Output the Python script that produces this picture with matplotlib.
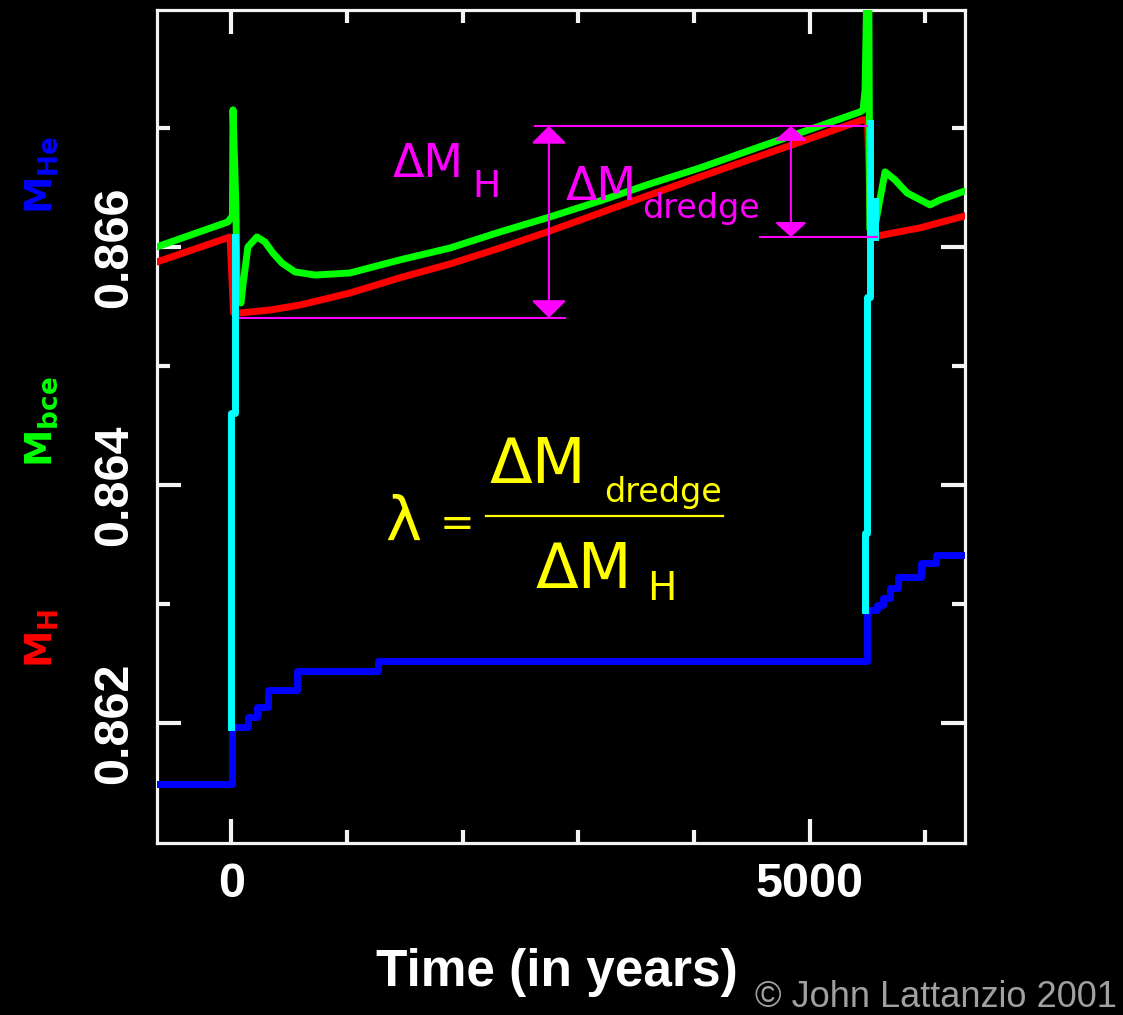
import matplotlib
matplotlib.use("Agg")
import matplotlib.pyplot as plt
from matplotlib import font_manager
from matplotlib.lines import Line2D

_names = {f.name for f in font_manager.fontManager.ttflist}


def pick(*cands):
    for n in cands:
        if n in _names:
            return n
    return "DejaVu Sans"


SANS = pick("Liberation Sans", "Arial")
NARROW = pick("Liberation Sans Narrow", "DejaVu Sans Condensed", "Liberation Sans")
PLAIN = "DejaVu Sans"

# ---------------- data ----------------
x_major = [0, 5000]
x_major_labels = ["0", "5000"]
x_minor = [1000, 2000, 3000, 4000, 6000]
y_major = [0.862, 0.864, 0.866]
y_major_labels = ["0.862", "0.864", "0.866"]
y_minor = [0.863, 0.865, 0.867]

# M_H (red)
t_H = [-642, -314, -11, 20, 75, 335, 594, 1026, 1458, 1891, 2323, 2755, 3188,
       4052, 4917, 5462, 5500, 5530, 5583, 5954, 6343]
M_H = [0.865873, 0.865982, 0.866083, 0.865444, 0.865444, 0.865469, 0.865511,
       0.865612, 0.865740, 0.865856, 0.865990, 0.866133, 0.866285, 0.866588,
       0.866880, 0.867068, 0.867068, 0.866091, 0.866091, 0.866159, 0.866260]

# M_bce (green)
t_bce = [-642, -29, 10, 15, 40, 50, 84, 101, 144, 222, 291, 360, 438, 551, 724,
         1026, 1458, 1891, 2323, 2755, 3188, 3620, 4052, 4570, 5090, 5436, 5462,
         5479, 5500, 5510, 5520, 5570, 5652, 5738, 5842, 6040, 6127, 6343]
M_bce = [0.866000, 0.866209, 0.866260, 0.867151, 0.866352, 0.865630, 0.865528,
         0.865679, 0.865999, 0.866083, 0.866041, 0.865948, 0.865864, 0.865789,
         0.865763, 0.865780, 0.865890, 0.865990, 0.866125, 0.866251, 0.866386,
         0.866529, 0.866663, 0.866841, 0.867016, 0.867134, 0.867150, 0.867319,
         0.868500, 0.868500, 0.866150, 0.866200, 0.866630, 0.866562, 0.866453,
         0.866352, 0.866394, 0.866470]

# M_He (blue), step-wise
t_He = [-642, 6, 145, 222, 317, 568, 1268, 5497, 5583, 5635, 5696, 5765, 5964,
        6093, 6343]
M_He = [0.861483, 0.861962, 0.862046, 0.862130, 0.862273, 0.862433, 0.862517,
        0.862946, 0.862988, 0.863047, 0.863131, 0.863224, 0.863341, 0.863409,
        0.863409]

# intershell convection (cyan)
t_conv1 = [32, 32, 2, 2]
M_conv1 = [0.866083, 0.864603, 0.864603, 0.861962]
t_conv2 = [5523, 5523, 5492, 5492, 5479, 5479]
M_conv2 = [0.867042, 0.865579, 0.865579, 0.863594, 0.863594, 0.862946]
t_conv2b = [5569, 5569]
M_conv2b = [0.866386, 0.866083]

# annotation levels
M_dH_low = 0.865402
M_top = 0.867016
M_dredge_low = 0.866083
t_dH_line = [75, 2884]
t_top_line = [2625, 5497]
t_dredge_line = [4570, 5583]
t_arrow_H = 2746
t_arrow_dredge = 4838

# ---------------- figure ----------------
W, H = 1123, 1015
fig = plt.figure(figsize=(W / 100, H / 100), dpi=100, facecolor="black")


def fx(x):
    return x / W


def fy(y):
    return 1 - y / H


ax = fig.add_axes([fx(157), fy(843), (965 - 157) / W, (843 - 10) / H])
ax.set_facecolor("black")
ax.set_xlim(-642, 6343)
ax.set_ylim(0.86099, 0.86799)

FRAME = "#f4f4f4"
for s in ax.spines.values():
    s.set_color(FRAME)
    s.set_linewidth(2.3)

ax.set_xticks(x_major)
ax.set_xticklabels(x_major_labels, fontsize=35, fontweight="bold",
                   family=SANS, color="white")
ax.set_xticks(x_minor, minor=True)
ax.set_yticks(y_major)
ax.set_yticklabels(y_major_labels, fontsize=35, fontweight="bold",
                   family=NARROW, color="white", rotation=90, va="center")
ax.set_yticks(y_minor, minor=True)
ax.tick_params(which="both", direction="in", top=True, right=True,
               color=FRAME, width=3)
ax.tick_params(which="major", length=17)
ax.tick_params(which="minor", length=9.5)
ax.tick_params(axis="x", which="major", pad=14)
ax.tick_params(axis="y", which="major", pad=14)

LW = 5
ax.plot(t_H, M_H, color="#ff0000", lw=LW, zorder=3)
ax.plot(t_bce, M_bce, color="#00ff00", lw=LW, zorder=4)
ax.plot(t_He, M_He, color="#0000ff", lw=LW, zorder=4, drawstyle="steps-post")
ax.plot(t_conv1, M_conv1, color="#00ffff", lw=LW, zorder=5)
ax.plot(t_conv2, M_conv2, color="#00ffff", lw=LW, zorder=5)
ax.plot(t_conv2b, M_conv2b, color="#00ffff", lw=LW, zorder=5)

MAG = "#ff00ff"
ax.plot(t_dH_line, [M_dH_low] * 2, color=MAG, lw=1.5, zorder=6)
ax.plot(t_top_line, [M_top] * 2, color=MAG, lw=1.5, zorder=6)
ax.plot(t_dredge_line, [M_dredge_low] * 2, color=MAG, lw=1.5, zorder=6)
ax.annotate("", xy=(t_arrow_H, M_top), xytext=(t_arrow_H, M_dH_low),
            arrowprops=dict(arrowstyle="<|-|>,head_length=0.55,head_width=0.55",
                            color=MAG, lw=1.5, shrinkA=0, shrinkB=0,
                            mutation_scale=20), zorder=6)
ax.annotate("", xy=(t_arrow_dredge, M_top), xytext=(t_arrow_dredge, M_dredge_low),
            arrowprops=dict(arrowstyle="<|-|>,head_length=0.45,head_width=0.5",
                            color=MAG, lw=1.5, shrinkA=0, shrinkB=0,
                            mutation_scale=20), zorder=6)

# magenta labels
fig.text(fx(393), fy(177), "ΔM", color=MAG, fontsize=33, family=PLAIN,
         va="baseline", ha="left")
fig.text(fx(472), fy(197), "H", color=MAG, fontsize=27, family=PLAIN,
         va="baseline", ha="left")
fig.text(fx(566), fy(200), "ΔM", color=MAG, fontsize=33, family=PLAIN,
         va="baseline", ha="left")
fig.text(fx(642), fy(218), "dredge", color=MAG, fontsize=24, family=PLAIN,
         va="baseline", ha="left")

# formula
YEL = "#ffff00"
fig.text(fx(385), fy(540), "λ", color=YEL, fontsize=44, family=PLAIN,
         va="baseline", ha="left")
fig.text(fx(440), fy(536), "=", color=YEL, fontsize=30, family=PLAIN,
         va="baseline", ha="left")
fig.text(fx(490), fy(483), "ΔM", color=YEL, fontsize=45, family=PLAIN,
         va="baseline", ha="left")
fig.text(fx(604), fy(502), "dredge", color=YEL, fontsize=24, family=PLAIN,
         va="baseline", ha="left")
fig.add_artist(Line2D([fx(486), fx(723)], [fy(516), fy(516)], color=YEL, lw=1.6))
fig.text(fx(536), fy(588), "ΔM", color=YEL, fontsize=45, family=PLAIN,
         va="baseline", ha="left")
fig.text(fx(647), fy(600), "H", color=YEL, fontsize=28, family=PLAIN,
         va="baseline", ha="left")

# coloured axis labels
fig.text(fx(42), fy(175), r"$\mathbf{M_{He}}$", color="#0000ff", fontsize=27,
         rotation=90, ha="center", va="center")
fig.text(fx(42), fy(422), r"$\mathbf{M_{bce}}$", color="#00ff00", fontsize=27,
         rotation=90, ha="center", va="center")
fig.text(fx(42), fy(638), r"$\mathbf{M_{H}}$", color="#ff0000", fontsize=27,
         rotation=90, ha="center", va="center")

fig.text(fx(557), fy(986), "Time (in years)", color="white", fontsize=37,
         fontweight="bold", family=SANS, ha="center", va="baseline")
fig.text(fx(755), fy(1007), "© John Lattanzio 2001", color="#a0a0a0",
         fontsize=26, family=SANS, ha="left", va="baseline")

fig.savefig("out.png", dpi=100, facecolor="black")
